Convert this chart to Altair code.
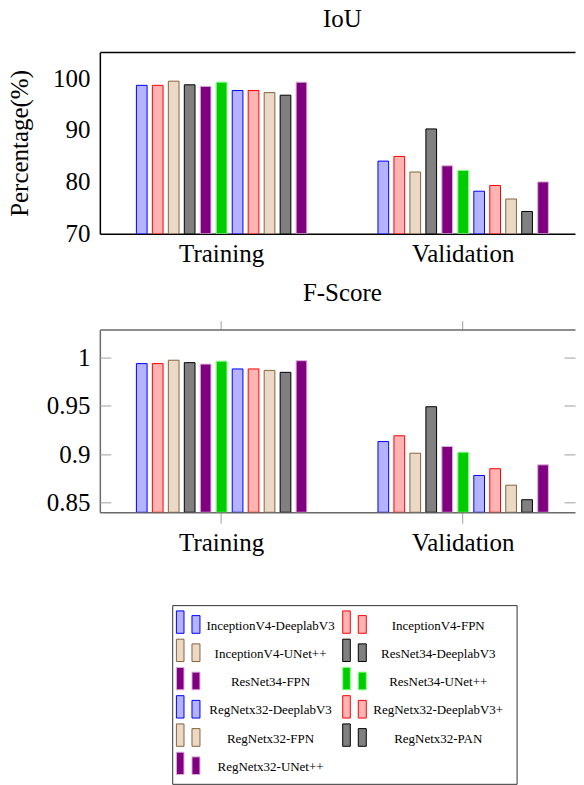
import altair as alt
import pandas as pd

models = [
    "InceptionV4-DeeplabV3", "InceptionV4-FPN", "InceptionV4-UNet++",
    "ResNet34-DeeplabV3", "ResNet34-FPN", "ResNet34-UNet++",
    "RegNetx32-DeeplabV3", "RegNetx32-DeeplabV3+", "RegNetx32-FPN",
    "RegNetx32-PAN", "RegNetx32-UNet++",
]
splits = ["Training", "Validation"]

iou_training = [98.6, 98.6, 99.4, 98.7, 98.4, 99.2, 97.6, 97.6, 97.2, 96.7, 99.2]
iou_validation = [84.0, 84.9, 81.9, 90.2, 83.1, 82.2, 78.2, 79.3, 76.7, 74.3, 80.0]
fscore_training = [0.9935, 0.9935, 0.997, 0.9945, 0.993, 0.996, 0.988, 0.988, 0.9865, 0.9845, 0.9965]
fscore_validation = [0.913, 0.919, 0.901, 0.949, 0.908, 0.902, 0.878, 0.885, 0.868, 0.853, 0.889]

iou_ticks = [70, 80, 90, 100]
fscore_ticks = [0.85, 0.9, 0.95, 1]

fill_colors = ["#b3b3ff", "#ffb3b3", "#ebd9c6", "#808080", "#800080", "#00cc00",
               "#b3b3ff", "#ffb3b3", "#ebd9c6", "#808080", "#800080"]
stroke_colors = ["#0000ff", "#ff0000", "#86623d", "#000000", "#d9b3d9", "#80ff80",
                 "#0000ff", "#ff0000", "#86623d", "#000000", "#d9b3d9"]

rows = []
for i, m in enumerate(models):
    rows.append({"split": "Training", "model": m, "iou": iou_training[i], "fscore": fscore_training[i]})
    rows.append({"split": "Validation", "model": m, "iou": iou_validation[i], "fscore": fscore_validation[i]})
df = pd.DataFrame(rows)

FONT = "Liberation Serif"
W = 476
GRAY = "#6a6a6a"
TICK = "#a0a0a0"

x_scale = alt.Scale(domain=splits, paddingInner=0.2727, paddingOuter=0.1198, align=0.586)
off_scale = alt.Scale(domain=models, paddingInner=0.33, paddingOuter=0.165)
fill_scale = alt.Scale(domain=models, range=fill_colors)
stroke_scale = alt.Scale(domain=models, range=stroke_colors)

# ---------------- IoU panel ----------------
y1 = alt.Scale(domain=[70, 105], nice=False, zero=False)
bars1 = alt.Chart(df).mark_bar(strokeWidth=1, clip=True).encode(
    x=alt.X("split:N", scale=x_scale, sort=splits,
            axis=alt.Axis(title=None, orient="bottom", labelAngle=0, labelFont=FONT, labelFontSize=25,
                          labelColor="black", labelBaseline="alphabetic", labelPadding=27.7,
                          ticks=False, tickSize=0, domainColor="black", domainWidth=1.5, grid=False)),
    xOffset=alt.XOffset("model:N", scale=off_scale, sort=models),
    y=alt.Y("iou:Q", scale=y1,
            axis=alt.Axis(values=iou_ticks, ticks=False, tickSize=0, labelFont=FONT, labelFontSize=25,
                          labelColor="black", labelPadding=10, domainColor="black", domainWidth=1.5,
                          grid=False, title="Percentage(%)", titleFont=FONT, titleFontSize=25,
                          titleFontWeight="normal", titleColor="black", titlePadding=19.5)),
    y2=alt.datum(70),
    fill=alt.Fill("model:N", scale=fill_scale, legend=None),
    stroke=alt.Stroke("model:N", scale=stroke_scale, legend=None),
)
frame1 = alt.Chart(df).mark_bar(opacity=0).encode(
    x=alt.X("split:N", scale=x_scale, sort=splits,
            axis=alt.Axis(orient="top", title=None, labels=False, ticks=False, tickSize=0,
                          domainColor="black", domainWidth=1.5, grid=False)),
    y=alt.Y("iou:Q", scale=y1, axis=None),
    y2=alt.datum(70),
)
chart1 = alt.layer(bars1, frame1).resolve_axis(x="independent", y="independent").properties(
    width=W, height=182,
    title=alt.TitleParams("IoU", font=FONT, fontSize=25, fontWeight="normal", color="black",
                          anchor="middle", frame="group", offset=20.5, dx=5),
)

# ---------------- F-Score panel ----------------
y2s = alt.Scale(domain=[0.84, 1.0286], nice=False, zero=False)
bars2 = alt.Chart(df).mark_bar(strokeWidth=1, clip=True).encode(
    x=alt.X("split:N", scale=x_scale, sort=splits,
            axis=alt.Axis(title=None, orient="bottom", labelAngle=0, labelFont=FONT, labelFontSize=25,
                          labelColor="black", labelBaseline="alphabetic", labelPadding=27,
                          ticks=True, tickSize=11, tickColor=TICK, tickWidth=1,
                          domainColor=GRAY, domainWidth=1.5, grid=False)),
    xOffset=alt.XOffset("model:N", scale=off_scale, sort=models),
    y=alt.Y("fscore:Q", scale=y2s,
            axis=alt.Axis(values=fscore_ticks, format="~g", ticks=False, tickSize=0, labelFont=FONT,
                          labelFontSize=25, labelColor="black", labelPadding=10, domainColor=GRAY,
                          domainWidth=1.5, grid=False, title=None)),
    y2=alt.datum(0.84),
    fill=alt.Fill("model:N", scale=fill_scale, legend=None),
    stroke=alt.Stroke("model:N", scale=stroke_scale, legend=None),
)
frame2 = alt.Chart(df).mark_bar(opacity=0).encode(
    x=alt.X("split:N", scale=x_scale, sort=splits,
            axis=alt.Axis(orient="top", title=None, labels=False, ticks=True, tickSize=9,
                          tickColor=TICK, tickWidth=1, domainColor=GRAY, domainWidth=1.5, grid=False)),
    y=alt.Y("fscore:Q", scale=y2s,
            axis=alt.Axis(orient="left", values=fscore_ticks, offset=-11, labels=False, domain=False,
                          ticks=True, tickSize=11, tickColor=TICK, tickWidth=1, grid=False, title=None)),
    y2=alt.datum(0.84),
)
frame3 = alt.Chart(df).mark_bar(opacity=0).encode(
    x=alt.X("split:N", scale=x_scale, sort=splits, axis=None),
    y=alt.Y("fscore:Q", scale=y2s,
            axis=alt.Axis(orient="right", values=fscore_ticks, offset=-11, labels=False, domain=False,
                          ticks=True, tickSize=11, tickColor=TICK, tickWidth=1, grid=False, title=None)),
    y2=alt.datum(0.84),
)
chart2 = alt.layer(bars2, frame2, frame3).resolve_axis(x="independent", y="independent").properties(
    width=W, height=183,
    title=alt.TitleParams("F-Score", font=FONT, fontSize=25, fontWeight="normal", color="black",
                          anchor="middle", frame="group", offset=14, dx=5),
)

# ---------------- Legend panel ----------------
G = 36.5
BOX_H = 179
lx = alt.Scale(domain=[0, W], nice=False, zero=False)
ly = alt.Scale(domain=[-G, BOX_H], nice=False, zero=False, reverse=True)

legend_df = pd.DataFrame({"model": models, "idx": list(range(len(models)))})
box_df = pd.DataFrame({"x1": [73], "x2": [418], "y1": [0], "y2": [BOX_H]})

box = alt.Chart(box_df).mark_rect(fill="white", stroke="#333333", strokeWidth=1).encode(
    x=alt.X("x1:Q", scale=lx, axis=None), x2="x2:Q",
    y=alt.Y("y1:Q", scale=ly, axis=None), y2="y2:Q",
)
leg_base = alt.Chart(legend_df).transform_calculate(
    col="datum.idx % 2",
    row="floor(datum.idx / 2)",
).transform_calculate(
    cy="20 + 28.3 * datum.row",
    tx1="76.7 + 166.6 * datum.col",
    sx1="92.3 + 166.6 * datum.col",
    tx="171 + 168 * datum.col",
).transform_calculate(
    tx2="datum.tx1 + 7.6",
    sx2="datum.sx1 + 8",
    ty1="datum.cy - 14.7",
    sy1="datum.cy - 10",
    iy2="datum.cy + 7.7",
)
tall = leg_base.mark_rect(strokeWidth=1).encode(
    x=alt.X("tx1:Q", scale=lx, axis=None), x2="tx2:Q",
    y=alt.Y("ty1:Q", scale=ly, axis=None), y2="iy2:Q",
    fill=alt.Fill("model:N", scale=fill_scale, legend=None),
    stroke=alt.Stroke("model:N", scale=stroke_scale, legend=None),
)
small = leg_base.mark_rect(strokeWidth=1).encode(
    x=alt.X("sx1:Q", scale=lx, axis=None), x2="sx2:Q",
    y=alt.Y("sy1:Q", scale=ly, axis=None), y2="iy2:Q",
    fill=alt.Fill("model:N", scale=fill_scale, legend=None),
    stroke=alt.Stroke("model:N", scale=stroke_scale, legend=None),
)
labels = leg_base.mark_text(font=FONT, fontSize=13, color="black", align="center", baseline="middle").encode(
    x=alt.X("tx:Q", scale=lx, axis=None),
    y=alt.Y("cy:Q", scale=ly, axis=None),
    text="model:N",
)
legend_chart = alt.layer(box, tall, small, labels).properties(width=W, height=BOX_H + G)

chart = alt.vconcat(chart1, chart2, legend_chart, spacing=14).properties(
    padding={"left": 0, "top": -2.5, "right": 0, "bottom": 0},
    background="white",
).configure_view(strokeWidth=0)

chart.save("out.html", embed_options={"renderer": "svg", "actions": False})
